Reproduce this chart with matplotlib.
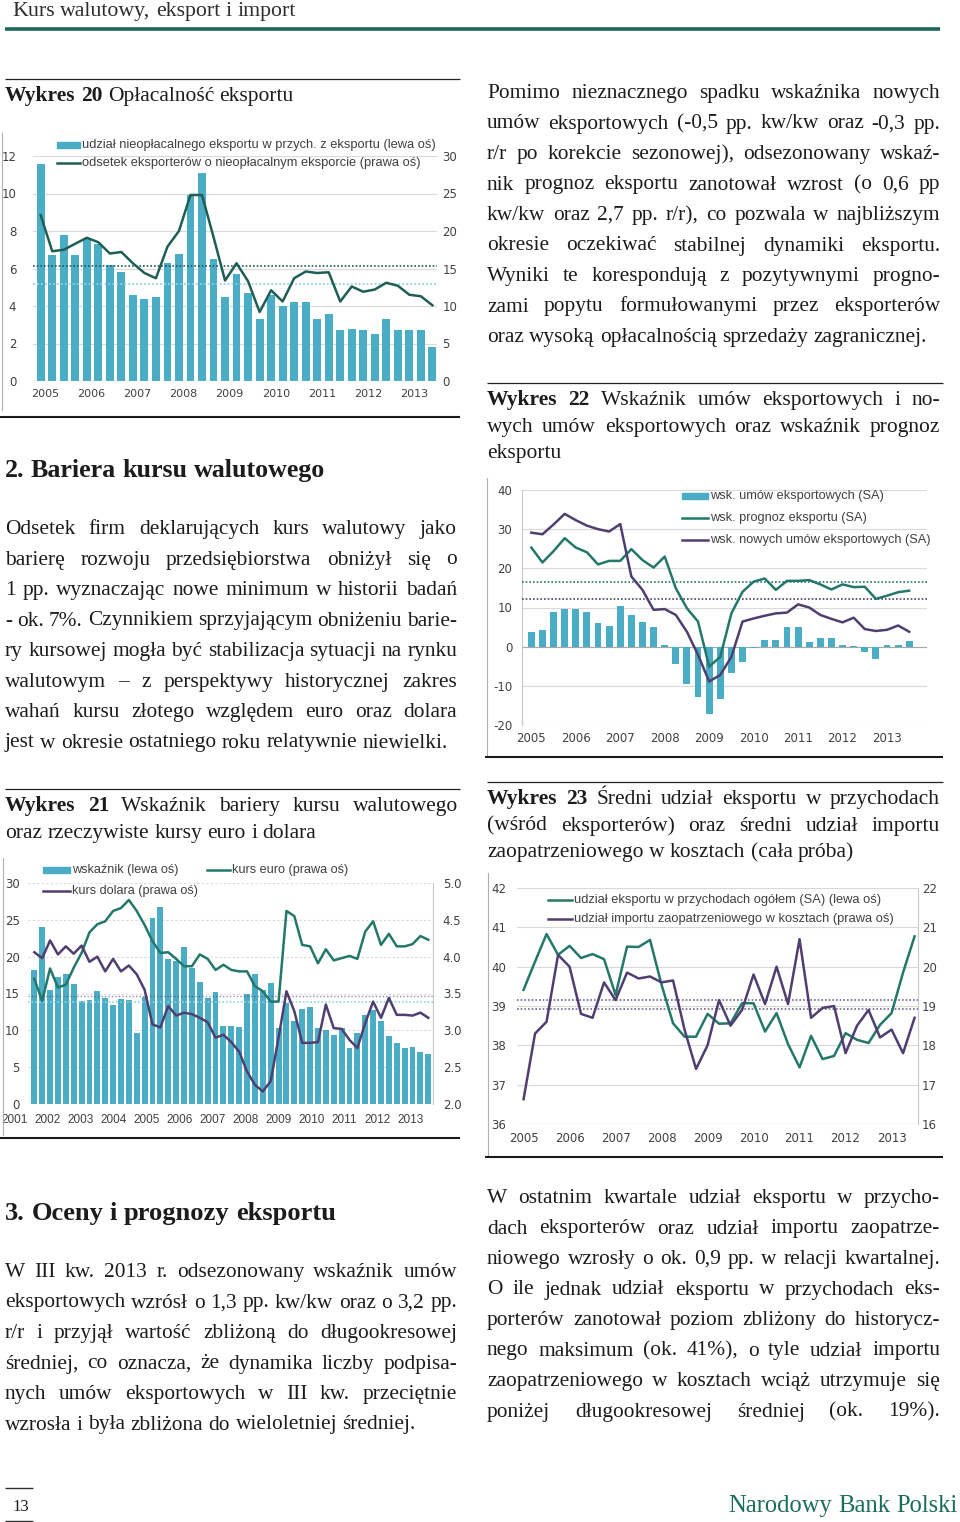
import matplotlib
matplotlib.use("Agg")
import matplotlib.pyplot as plt
from matplotlib.lines import Line2D
from matplotlib.patches import Rectangle
from matplotlib.transforms import blended_transform_factory
import numpy as np

plt.rcParams["axes.unicode_minus"] = False

W, H = 960, 1522
SERIF = "Liberation Serif"
SANS = "Liberation Sans"
INK = "#1c1c1c"
AXC = "#404040"
BAR = "#4bacc6"
TEAL = "#23786a"
DTEAL = "#1f5e55"
PURPLE = "#4f3f70"
GRID = "#d9d9d9"

# ---------------- data ----------------
years_05 = ["2005", "2006", "2007", "2008", "2009", "2010", "2011", "2012", "2013"]
years_01 = ["2001", "2002", "2003", "2004", "2005", "2006", "2007",
            "2008", "2009", "2010", "2011", "2012", "2013"]

# Wykres 20 (2005Q1-2013Q3)
w20_unprofitable_share = [11.6, 6.7, 7.8, 6.7, 7.6, 7.3, 6.2, 5.8, 4.6, 4.4, 4.5, 6.3,
                          6.8, 9.9, 11.1, 6.5, 4.5, 5.7, 4.7, 3.3, 4.6, 4.0, 4.2, 4.2,
                          3.3, 3.6, 2.7, 2.8, 2.7, 2.5, 3.3, 2.7, 2.7, 2.7, 1.8]
w20_exporters_pct = [22.1, 17.3, 17.5, 18.3, 19.1, 18.5, 17.0, 17.2, 15.7, 14.4, 13.7, 17.9,
                     20.0, 24.8, 24.8, 19.2, 13.4, 15.7, 13.3, 9.2, 12.1, 10.6, 13.7, 14.6,
                     14.4, 14.5, 10.6, 12.6, 11.9, 12.2, 13.1, 12.7, 11.5, 11.3, 10.1]
w20_means = [5.2, 15.3]  # bars (left), line (right)

# Wykres 22 (2005Q1-2013Q3)
w22_contracts = [3.8, 4.3, 8.9, 9.5, 9.5, 8.9, 6.1, 5.4, 10.5, 8.1, 6.4, 4.9,
                 0.3, -4.5, -9.6, -12.8, -17.3, -13.4, -6.8, -3.8, -0.3, 1.7, 1.7, 4.9,
                 4.9, 1.1, 2.1, 2.1, 0.3, 0.2, -1.4, -3.2, 0.3, 0.3, 1.4]
w22_forecast = [25.3, 21.5, 24.4, 27.7, 25.3, 24.1, 21.0, 21.9, 21.9, 24.9, 22.1, 20.2,
                23.0, 14.9, 9.8, 6.4, -5.1, -2.6, 8.5, 14.0, 16.6, 17.4, 14.5, 16.8,
                16.8, 17.0, 15.9, 14.6, 15.9, 15.2, 15.3, 12.2, 13.0, 13.9, 14.3]
w22_new_contracts = [29.1, 28.7, 31.2, 33.9, 32.3, 30.9, 30.0, 29.4, 31.3, 17.9, 14.5, 9.4,
                     9.6, 8.1, 3.8, -2.1, -8.9, -7.2, -2.6, 6.4, 7.2, 7.9, 8.5, 8.7,
                     10.8, 10.0, 8.1, 7.1, 6.2, 7.4, 4.5, 4.0, 4.3, 5.4, 3.8]
w22_means = [16.4, 12.1]

# Wykres 21 (2001Q1-2013Q3)
w21_barrier = [18.2, 24.0, 15.5, 17.3, 17.6, 16.3, 14.0, 14.1, 15.4, 14.4, 13.4, 14.3,
               14.1, 9.6, 14.5, 25.3, 26.7, 19.7, 19.4, 21.3, 18.5, 16.6, 14.4, 15.2,
               10.6, 10.6, 10.4, 14.9, 17.7, 15.5, 16.4, 10.3, 13.7, 11.3, 12.9, 13.1,
               10.3, 10.1, 9.4, 10.3, 7.6, 9.6, 12.1, 12.8, 11.3, 9.2, 8.3, 7.6,
               7.7, 7.1, 6.8]
w21_eur = [3.70, 3.40, 3.84, 3.58, 3.62, 3.85, 4.05, 4.33, 4.44, 4.48, 4.62, 4.66,
           4.77, 4.62, 4.43, 4.21, 4.05, 4.06, 3.97, 3.87, 3.87, 4.03, 3.97, 3.82,
           3.89, 3.82, 3.80, 3.80, 3.60, 3.53, 3.39, 3.39, 4.62, 4.55, 4.16, 4.14,
           3.91, 4.10, 3.95, 3.98, 4.01, 3.97, 4.34, 4.48, 4.16, 4.31, 4.14, 4.14,
           4.17, 4.28, 4.23]
w21_usd = [4.06, 3.98, 4.22, 4.03, 4.14, 4.04, 4.15, 3.93, 4.00, 3.80, 3.97, 3.80,
           3.88, 3.76, 3.55, 3.08, 3.04, 3.33, 3.20, 3.24, 3.22, 3.17, 3.11, 2.90,
           2.94, 2.84, 2.71, 2.44, 2.26, 2.17, 2.31, 2.90, 3.53, 3.26, 2.83, 2.83,
           2.84, 3.35, 3.03, 3.02, 2.87, 2.76, 3.10, 3.39, 3.17, 3.44, 3.21, 3.21,
           3.20, 3.24, 3.17]
w21_means = [13.9, 3.46]

# Wykres 23 (2005Q1-2013Q3)
w23_export_share = [39.41, 40.13, 40.83, 40.30, 40.53, 40.22, 40.32, 40.19, 39.28, 40.51,
                    40.50, 40.68, 39.54, 38.56, 38.22, 38.22, 38.80, 38.55, 38.56, 39.07,
                    39.07, 38.35, 38.82, 38.03, 37.44, 38.24, 37.65, 37.73, 38.31, 38.14,
                    38.06, 38.52, 38.82, 39.85, 40.77]
w23_import_share = [16.63, 18.3, 18.6, 20.3, 20.0, 18.8, 18.7, 19.6, 19.15, 19.85,
                    19.7, 19.75, 19.6, 19.65, 18.4, 17.4, 18.0, 19.15, 18.5, 18.9,
                    19.8, 19.05, 20.0, 19.05, 20.7, 18.7, 18.95, 19.0, 17.8, 18.5,
                    18.9, 18.2, 18.4, 17.8, 18.7]
w23_means = [39.15, 38.92]

# ---------------- texts ----------------
header = "Kurs walutowy, eksport i import"
cap20 = ["Wykres 20 Opłacalność eksportu"]
cap21 = ["Wykres 21 Wskaźnik bariery kursu walutowego",
         "oraz rzeczywiste kursy euro i dolara"]
cap22 = ["Wykres 22 Wskaźnik umów eksportowych i no-",
         "wych umów eksportowych oraz wskaźnik prognoz",
         "eksportu"]
cap23 = ["Wykres 23 Średni udział eksportu w przychodach",
         "(wśród eksporterów) oraz średni udział importu",
         "zaopatrzeniowego w kosztach (cała próba)"]
head2 = "2. Bariera kursu walutowego"
head3 = "3. Oceny i prognozy eksportu"
para_r1 = ["Pomimo nieznacznego spadku wskaźnika nowych",
           "umów eksportowych (-0,5 pp. kw/kw oraz -0,3 pp.",
           "r/r po korekcie sezonowej), odsezonowany wskaź-",
           "nik prognoz eksportu zanotował wzrost (o 0,6 pp",
           "kw/kw oraz 2,7 pp. r/r), co pozwala w najbliższym",
           "okresie oczekiwać stabilnej dynamiki eksportu.",
           "Wyniki te korespondują z pozytywnymi progno-",
           "zami popytu formułowanymi przez eksporterów",
           "oraz wysoką opłacalnością sprzedaży zagranicznej."]
para_l2 = ["Odsetek firm deklarujących kurs walutowy jako",
           "barierę rozwoju przedsiębiorstwa obniżył się o",
           "1 pp. wyznaczając nowe minimum w historii badań",
           "- ok. 7%. Czynnikiem sprzyjającym obniżeniu barie-",
           "ry kursowej mogła być stabilizacja sytuacji na rynku",
           "walutowym – z perspektywy historycznej zakres",
           "wahań kursu złotego względem euro oraz dolara",
           "jest w okresie ostatniego roku relatywnie niewielki."]
para_l3 = ["W III kw. 2013 r. odsezonowany wskaźnik umów",
           "eksportowych wzrósł o 1,3 pp. kw/kw oraz o 3,2 pp.",
           "r/r i przyjął wartość zbliżoną do długookresowej",
           "średniej, co oznacza, że dynamika liczby podpisa-",
           "nych umów eksportowych w III kw. przeciętnie",
           "wzrosła i była zbliżona do wieloletniej średniej."]
para_r4 = ["W ostatnim kwartale udział eksportu w przycho-",
           "dach eksporterów oraz udział importu zaopatrze-",
           "niowego wzrosły o ok. 0,9 pp. w relacji kwartalnej.",
           "O ile jednak udział eksportu w przychodach eks-",
           "porterów zanotował poziom zbliżony do historycz-",
           "nego maksimum (ok. 41%), o tyle udział importu",
           "zaopatrzeniowego w kosztach wciąż utrzymuje się",
           "poniżej długookresowej średniej (ok. 19%)."]

leg20 = ["udział nieopłacalnego eksportu w przych. z eksportu (lewa oś)",
         "odsetek eksporterów o nieopłacalnym eksporcie (prawa oś)"]
leg22 = ["wsk. umów eksportowych (SA)", "wsk. prognoz eksportu (SA)",
         "wsk. nowych umów eksportowych (SA)"]
leg21 = ["wskaźnik (lewa oś)", "kurs euro (prawa oś)", "kurs dolara (prawa oś)"]
leg23 = ["udział eksportu w przychodach ogółem (SA) (lewa oś)",
         "udział importu zaopatrzeniowego w kosztach (prawa oś)"]

# ---------------- helpers ----------------
fig = plt.figure(figsize=(W / 100, H / 100), dpi=100)
fig.patch.set_facecolor("white")
renderer = fig.canvas.get_renderer()


def fx(x):
    return x / W


def fy(y):
    return 1 - y / H


def width(s, size, family=SERIF, weight="normal"):
    t = fig.text(0, 0, s, fontsize=size, family=family, weight=weight)
    w = t.get_window_extent(renderer).width
    t.remove()
    return w


def toks(line, nbold=0):
    return [(w, "bold" if i < nbold else "normal") for i, w in enumerate(line.split())]


def natural(tokens, size, family=SERIF):
    sp = width("a a", size, family) - width("aa", size, family)
    return sum(width(w, size, family, wt) for w, wt in tokens) + sp * (len(tokens) - 1)


def put_line(tokens, x0, x1, yb, size, justify, family=SERIF, color=INK):
    ws = [width(w, size, family, wt) for w, wt in tokens]
    sp = width("a a", size, family) - width("aa", size, family)
    gap = (x1 - x0 - sum(ws)) / (len(tokens) - 1) if justify and len(tokens) > 1 else sp
    x = x0
    for (w, wt), wd in zip(tokens, ws):
        fig.text(fx(x), fy(yb), w, fontsize=size, family=family, weight=wt,
                 color=color, ha="left", va="baseline")
        x += wd + gap


def para(lines, x0, x1, yb0, step, size, justify_last=False, nbold=0):
    for i, line in enumerate(lines):
        just = i < len(lines) - 1 or justify_last
        put_line(toks(line, nbold if i == 0 else 0), x0, x1, yb0 + i * step, size, just)


def fit(tokens, target, family=SERIF):
    return 10 * target / natural(tokens, 10, family)


def hline(x0, x1, y, color="#222222", lw=0.9):
    fig.add_artist(Line2D([fx(x0), fx(x1)], [fy(y), fy(y)], color=color, lw=lw,
                          solid_capstyle="butt"))


def vline(x, y0, y1, color="#b0b0b0", lw=0.8):
    fig.add_artist(Line2D([fx(x), fx(x)], [fy(y0), fy(y1)], color=color, lw=lw))


def axes_px(x0, y0, x1, y1):
    return fig.add_axes([fx(x0), fy(y1), (x1 - x0) / W, (y1 - y0) / H])


def leg_item(kind, x0, x1, y, color, label, size):
    if kind == "bar":
        fig.add_artist(Rectangle((fx(x0), fy(y + 3)), (x1 - x0) / W, 6 / H,
                                 transform=fig.transFigure, color=color))
    else:
        fig.add_artist(Line2D([fx(x0), fx(x1)], [fy(y), fy(y)], color=color, lw=1.8))
    fig.text(fx(x1 + 2), fy(y), label, fontsize=size, family=SANS, color=AXC,
             ha="left", va="center")


def style(ax, size, lpad, bpad):
    for s in ax.spines.values():
        s.set_visible(False)
    ax.tick_params(axis="both", labelsize=size, colors=AXC, length=0)
    ax.tick_params(axis="y", pad=lpad)
    ax.tick_params(axis="x", pad=bpad)
    ax.set_axisbelow(True)


# ---------------- page text ----------------
body_size = np.mean([fit(toks(para_r1[-1]), 445), fit(toks(para_l2[-1]), 445),
                     fit(toks(para_l3[-1]), 410)])
just_lines = para_r1[:-1] + para_l2[:-1] + para_l3[:-1] + para_r4
widest = max(natural(toks(l), body_size) for l in just_lines)
if widest > 451:
    body_size *= 451 / widest

cap_size = np.mean([fit(toks(cap20[0], 2), 283), fit(toks(cap21[1]), 315),
                    fit(toks(cap23[2]), 370)])

# header
put_line(toks(header), 12, 295, 16, fit(toks(header), 283), False, color="#2e2e2e")
hline(5, 940, 28.5, color="#1f6660", lw=2.6)

# captions
hline(5, 460, 78.5)
para(cap20, 5, 460, 101, 26.7, cap_size, nbold=2)
hline(487, 943, 382.5)
para(cap22, 487, 940, 405, 26.7, cap_size, nbold=2)
hline(5, 460, 788.5)
para(cap21, 5, 458, 811, 26.7, cap_size, nbold=2)
hline(487, 943, 781.5)
para(cap23, 487, 940, 804, 26.7, cap_size, nbold=2)

# headings
bold_h2 = [(w, "bold") for w in head2.split()]
bold_h3 = [(w, "bold") for w in head3.split()]
put_line(bold_h2, 5, 327, 477, 10 * 322 / natural(bold_h2, 10), False)
put_line(bold_h3, 5, 337, 1220, 10 * 332 / natural(bold_h3, 10), False)

# paragraphs
para(para_r1, 487, 940, 98, 30.5, body_size)
para(para_l2, 5, 457, 534, 30.5, body_size)
para(para_l3, 5, 457, 1277, 30.5, body_size)
para(para_r4, 487, 940, 1203, 30.5, body_size, justify_last=True)

# footer
hline(5, 33, 1487.5, color="#333333", lw=1.0)
hline(5, 33, 1520.5, color="#333333", lw=1.0)
fig.text(fx(12), fy(1511), "13", fontsize=12, family=SERIF, color=INK, ha="left", va="baseline")
nbp = toks("Narodowy Bank Polski")
put_line(nbp, 728, 958, 1512, fit(nbp, 230), False, color="#1b6e5a")

# ---------------- Wykres 20 ----------------
ax = axes_px(33, 156, 437, 381)
x = np.arange(len(w20_unprofitable_share))
ax.bar(x, w20_unprofitable_share, width=0.68, color=BAR, zorder=2)
ax.set_xlim(-0.67, 34.4)
ax.set_ylim(0, 12)
ax.set_yticks(range(0, 13, 2))
ax.grid(axis="y", color=GRID, lw=0.8)
ax.set_xticks(np.arange(len(years_05)) * 4 + 0.4)
ax.set_xticklabels(years_05)
style(ax, 8.5, 12, 6)
ax.tick_params(axis="x", labelsize=8)
ax.axhline(0, color="#bfbfbf", lw=0.8)
ax2 = ax.twinx()
ax2.plot(x, w20_exporters_pct, color=DTEAL, lw=1.8, zorder=4)
ax2.axhline(w20_means[0] * 2.5, color="#8fd3e6", lw=1.3, ls=(0, (1, 1.2)), zorder=3)
ax2.axhline(w20_means[1], color=DTEAL, lw=1.2, ls=(0, (1, 1.2)), zorder=3)
ax2.set_ylim(0, 30)
ax2.set_yticks(range(0, 31, 5))
style(ax2, 8.5, 4, 6)
vline(2, 133, 410)
hline(0, 460, 416.5, color="#1a1a1a", lw=1.5)
lsz = 10 * 353 / natural(toks(leg20[0]), 10, SANS)
leg_item("bar", 57, 80, 145, BAR, leg20[0], lsz)
leg_item("line", 57, 80, 163, DTEAL, leg20[1], lsz)

# ---------------- Wykres 22 ----------------
ax = axes_px(522, 490, 927, 725)
x = np.arange(len(w22_contracts))
ax.bar(x, w22_contracts, width=0.62, color=BAR, zorder=2)
ax.plot(x, w22_forecast, color=TEAL, lw=1.8, zorder=4)
ax.plot(x, w22_new_contracts, color=PURPLE, lw=1.8, zorder=4)
ax.axhline(w22_means[0], color=TEAL, lw=1.2, ls=(0, (1, 1.2)), zorder=3)
ax.axhline(w22_means[1], color=PURPLE, lw=1.2, ls=(0, (1, 1.2)), zorder=3)
ax.axhline(0, color="#a6a6a6", lw=0.8, zorder=1)
ax.set_xlim(-0.84, 35.6)
ax.set_ylim(-20, 40)
ax.set_yticks(range(-20, 41, 10))
ax.grid(axis="y", color=GRID, lw=0.8)
ax.set_xticks(np.arange(len(years_05)) * 4)
ax.set_xticklabels(years_05)
style(ax, 8.5, 7, 5)
ax.spines["left"].set_visible(True)
ax.spines["left"].set_color("#c8c8c8")
vline(487, 478, 755)
hline(485, 943, 756.5, color="#1a1a1a", lw=1.5)
lsz = 10 * 220 / natural(toks(leg22[2]), 10, SANS)
leg_item("bar", 682, 708, 496, BAR, leg22[0], lsz)
leg_item("line", 682, 708, 518, TEAL, leg22[1], lsz)
leg_item("line", 682, 708, 540, PURPLE, leg22[2], lsz)

# ---------------- Wykres 21 ----------------
ax = axes_px(28, 883, 433, 1104)
x = np.arange(len(w21_barrier))
ax.bar(x, w21_barrier, width=0.75, color=BAR, zorder=2)
ax.axhline(w21_means[0], color="#8fd3e6", lw=1.2, ls=(0, (1, 1.2)), zorder=3)
ax.set_xlim(-0.8, 50.6)
ax.set_ylim(0, 30)
ax.set_yticks(range(0, 31, 5))
ax.grid(axis="y", color=GRID, lw=0.8, ls=(0, (2, 2)))
ax.set_xticks([])
style(ax, 8.5, 6, 7)
ax.axhline(0, color="#bfbfbf", lw=0.8)
trans = blended_transform_factory(ax.transData, ax.transAxes)
for pos, lab in zip(np.linspace(-2.45, 47.7, len(years_01)), years_01):
    ax.text(pos, -0.072, lab, transform=trans, ha="center", va="center",
            fontsize=8.5, family=SANS, color=AXC, clip_on=False)
ax2 = ax.twinx()
ax2.plot(x, w21_eur, color=TEAL, lw=1.8, zorder=4)
ax2.plot(x, w21_usd, color=PURPLE, lw=1.8, zorder=4)
ax2.axhline(w21_means[1], color=PURPLE, lw=1.0, ls=(0, (1, 1.5)), alpha=0.6, zorder=3)
ax2.set_ylim(2.0, 5.0)
ax2.set_yticks(np.arange(2.0, 5.01, 0.5))
ax2.set_yticklabels([f"{v:.1f}" for v in np.arange(2.0, 5.01, 0.5)])
style(ax2, 8.5, 7, 7)
ax2.spines["right"].set_visible(True)
ax2.spines["right"].set_color("#c8c8c8")
vline(3, 858, 1135)
hline(0, 460, 1137.5, color="#1a1a1a", lw=1.5)
lsz = 10 * 106 / natural(toks(leg21[0]), 10, SANS)
leg_item("bar", 43, 70, 870, BAR, leg21[0], lsz)
leg_item("line", 207, 230, 870, TEAL, leg21[1], lsz)
leg_item("line", 43, 70, 891, PURPLE, leg21[2], lsz)

# ---------------- Wykres 23 ----------------
ax = axes_px(517, 888, 918, 1124)
x = np.arange(len(w23_export_share))
ax.plot(x, w23_export_share, color=TEAL, lw=1.8, zorder=4)
ax.axhline(w23_means[0], color=PURPLE, lw=1.2, ls=(0, (1, 1.2)), alpha=0.8, zorder=3)
ax.axhline(w23_means[1], color=PURPLE, lw=1.2, ls=(0, (1, 1.2)), alpha=0.8, zorder=3)
ax.set_xlim(-0.57, 34.3)
ax.set_ylim(36, 42)
ax.set_yticks(range(36, 43))
ax.grid(axis="y", color=GRID, lw=0.8)
ax.set_xticks(np.arange(len(years_05)) * 4)
ax.set_xticklabels(years_05)
style(ax, 8.5, 8, 6)
ax.axhline(36, color="#bfbfbf", lw=0.8)
ax2 = ax.twinx()
ax2.plot(x, w23_import_share, color=PURPLE, lw=1.8, zorder=4)
ax2.set_ylim(16, 22)
ax2.set_yticks(range(16, 23))
style(ax2, 8.5, 3, 6)
ax2.spines["right"].set_visible(True)
ax2.spines["right"].set_color("#c8c8c8")
vline(488, 873, 1155)
hline(485, 943, 1157, color="#1a1a1a", lw=1.5)
lsz = 10 * 307 / natural(toks(leg23[0]), 10, SANS)
leg_item("line", 548, 572, 900, TEAL, leg23[0], lsz)
leg_item("line", 548, 572, 919, PURPLE, leg23[1], lsz)

fig.savefig("out.png", dpi=100, facecolor="white")
